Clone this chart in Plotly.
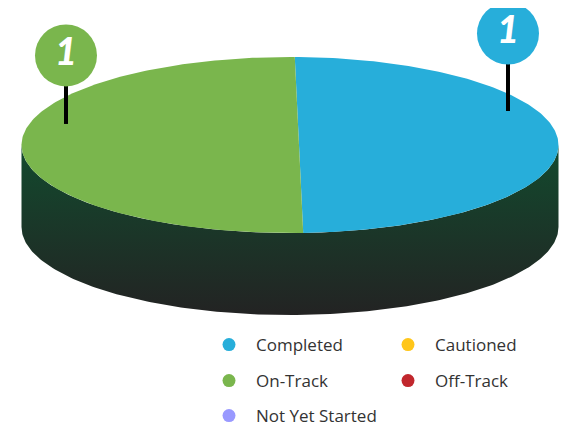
import numpy as np
import plotly.graph_objects as go

# ---------------- data ----------------
categories = ["Completed", "Cautioned", "On-Track", "Off-Track", "Not Yet Started"]
values = [1, 0, 1, 0, 0]
colors = ["#27AEDA", "#FFC61A", "#7AB64D", "#C1272D", "#9999FF"]
legend_rows = [0, 0, 1, 1, 2]

# ---------------- geometry / style (window pixels) ----------------
W, H = 571, 430
OFF = 8                      # default page body margin
CX, CY = 290.0, 145.0        # rim ellipse centre
A, B = 268.5, 88.0           # rim radii
PX, PY = 299.0, 145.0        # apex of wedges
DEPTH = 82.0                 # extrusion depth
START = np.deg2rad(-0.9)     # start angle (clockwise from top)
PIN_LIFT = {"right": np.deg2rad(25.5), "left": np.deg2rad(16.3)}
PIN_R = {"right": 0.896, "left": 0.872}
PIN_H = {"right": 77.5, "left": 68.5}
PIN_SIZE = 62

def ray(phi):
    ux, uy = np.sin(phi), -np.cos(phi)
    ox, oy = (PX - CX) / A, (PY - CY) / B
    k = ox * ux + oy * uy
    c = ox * ox + oy * oy - 1
    t = -k + np.sqrt(k * k - c)
    return ux * A * t, uy * B * t

fig = go.Figure()

# side (extrusion) with vertical gradient
s1 = np.linspace(np.pi, 0, 200)
s2 = np.linspace(0, np.pi, 200)
sx = np.concatenate([CX + A * np.cos(s1), CX + A * np.cos(s2)])
sy = np.concatenate([CY + B * np.sin(s1), CY + DEPTH + B * np.sin(s2)])
fig.add_trace(go.Scatter(
    x=sx, y=sy, mode="lines", line=dict(width=0), fill="toself",
    fillgradient=dict(type="vertical", colorscale=[[0, "#124A2E"], [1, "#232323"]],
                      start=CY, stop=CY + B + DEPTH),
    hoverinfo="skip", showlegend=False))

# slices on top face
total = sum(values)
ang = START
pins = []
for cat, v, col in zip(categories, values, colors):
    if v <= 0:
        continue
    span = 2 * np.pi * v / total
    phis = np.linspace(ang, ang + span, 200)
    xs, ys = [PX], [PY]
    for p in phis:
        dx, dy = ray(p)
        xs.append(PX + dx)
        ys.append(PY + dy)
    xs.append(PX); ys.append(PY)
    fig.add_trace(go.Scatter(x=xs, y=ys, mode="lines", line=dict(width=0, color=col),
                             fill="toself", fillcolor=col, hoverinfo="skip",
                             showlegend=False))
    mid = ang + span / 2
    side = "right" if np.mod(mid, 2 * np.pi) < np.pi else "left"
    pa = mid - PIN_LIFT[side] if side == "right" else mid + PIN_LIFT[side]
    dx, dy = ray(pa)
    pins.append((PX + PIN_R[side] * dx, PY + PIN_R[side] * dy, PIN_H[side], col, v))
    ang += span

# pins
for tx, ty, ph, col, v in pins:
    fig.add_trace(go.Scatter(x=[tx, tx], y=[ty, ty - ph], mode="lines",
                             line=dict(color="#000000", width=4),
                             hoverinfo="skip", showlegend=False))
    fig.add_trace(go.Scatter(
        x=[tx], y=[ty - ph], mode="markers+text", text=[str(v)],
        textposition="middle center",
        textfont=dict(family="Lato", size=38, color="white", weight=900, style="italic"),
        marker=dict(size=PIN_SIZE, color=col, line=dict(width=0)),
        hoverinfo="skip", showlegend=False))

# legend entries
legend_names = ["legend", "legend2", "legend3"]
for cat, col, r in zip(categories, colors, legend_rows):
    fig.add_trace(go.Scatter(x=[None], y=[None], mode="markers", name=cat,
                             marker=dict(size=13, color=col),
                             legend=legend_names[r], showlegend=True))

leg_common = dict(orientation="h", xanchor="left", yanchor="top",
                  entrywidth=120, entrywidthmode="pixels", itemwidth=44,
                  bgcolor="rgba(0,0,0,0)", borderwidth=0,
                  font=dict(family="Open Sans", size=17, color="#333333"),
                  itemclick=False, itemdoubleclick=False)
row_center = [345, 381, 416]
LEG_X = 202
layout_legs = {}
for name, yc in zip(legend_names, row_center):
    top = yc - 18
    layout_legs[name] = dict(leg_common, x=(LEG_X - OFF) / W, y=1 - (top - OFF) / H)

fig.update_layout(
    width=W, height=H, margin=dict(l=0, r=0, t=0, b=0, autoexpand=False),
    paper_bgcolor="white", plot_bgcolor="white",
    xaxis=dict(range=[OFF, W + OFF], visible=False, fixedrange=True),
    yaxis=dict(range=[H + OFF, OFF], visible=False, fixedrange=True),
    showlegend=True,
    **layout_legs,
)

fig.write_html("out.html")
